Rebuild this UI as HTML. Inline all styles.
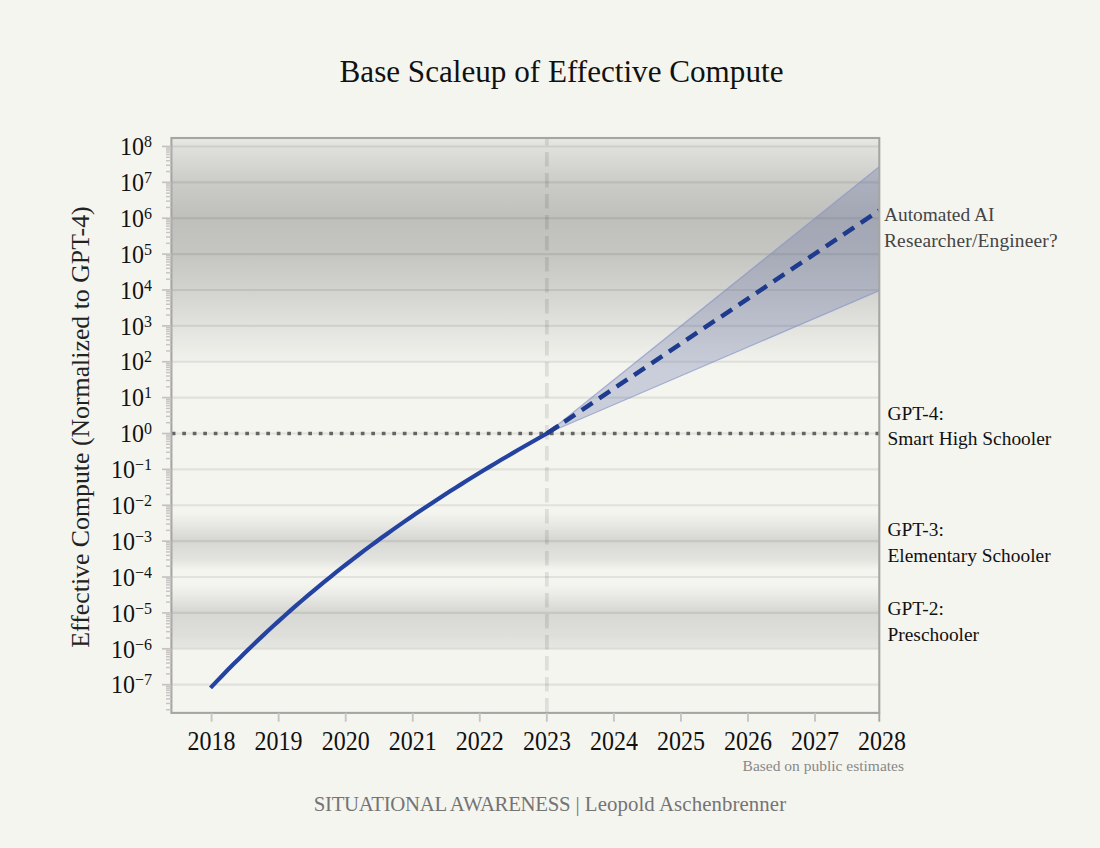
<!DOCTYPE html>
<html><head><meta charset="utf-8">
<style>
html,body{margin:0;padding:0;background:#f5f5f0;}
body{width:1100px;height:848px;overflow:hidden;position:relative;font-family:"Liberation Serif",serif;}
svg{position:absolute;left:0;top:0;}
.t{position:absolute;white-space:nowrap;line-height:1;}
</style></head><body>
<svg width="1100" height="848" viewBox="0 0 1100 848">
<defs>
<linearGradient id="gTop" x1="0" y1="138.0" x2="0" y2="368.916" gradientUnits="userSpaceOnUse">
  <stop offset="0" stop-color="#e8e8e4"/>
  <stop offset="0.037" stop-color="#e0e0dc"/>
  <stop offset="0.192" stop-color="#cbcbc7"/>
  <stop offset="0.347" stop-color="#bfbfbb"/>
  <stop offset="0.503" stop-color="#c5c5c1"/>
  <stop offset="0.658" stop-color="#d2d2ce"/>
  <stop offset="0.814" stop-color="#e2e2de"/>
  <stop offset="0.969" stop-color="#f2f2ed"/>
  <stop offset="1" stop-color="#f5f5f0"/>
</linearGradient>
<linearGradient id="g3" x1="0" y1="512" x2="0" y2="570" gradientUnits="userSpaceOnUse">
  <stop offset="0" stop-color="#f5f5f0"/>
  <stop offset="0.224" stop-color="#e7e7e3"/>
  <stop offset="0.483" stop-color="#d6d6d2"/>
  <stop offset="0.603" stop-color="#dbdbd7"/>
  <stop offset="0.810" stop-color="#e2e2de"/>
  <stop offset="1" stop-color="#f5f5f0"/>
</linearGradient>
<linearGradient id="g2" x1="0" y1="584" x2="0" y2="648.4" gradientUnits="userSpaceOnUse">
  <stop offset="0" stop-color="#f5f5f0"/>
  <stop offset="0.171" stop-color="#eaeae6"/>
  <stop offset="0.419" stop-color="#d7d7d3"/>
  <stop offset="0.543" stop-color="#d9d9d5"/>
  <stop offset="0.792" stop-color="#dededa"/>
  <stop offset="1" stop-color="#e6e6e2"/>
</linearGradient>
<clipPath id="clip"><rect x="171.4" y="138.0" width="707.9" height="574.9"/></clipPath>
</defs>

<rect x="171.4" y="138.0" width="707.9" height="230.92" fill="url(#gTop)"/>
<rect x="171.4" y="512" width="707.9" height="58" fill="url(#g3)"/>
<rect x="171.4" y="584" width="707.9" height="64.4" fill="url(#g2)"/>
<line x1="171.4" x2="879.3" y1="684.66" y2="684.66" stroke="#000" stroke-opacity="0.08" stroke-width="2.1"/>
<line x1="171.4" x2="879.3" y1="648.78" y2="648.78" stroke="#000" stroke-opacity="0.08" stroke-width="2.1"/>
<line x1="171.4" x2="879.3" y1="612.90" y2="612.90" stroke="#000" stroke-opacity="0.08" stroke-width="2.1"/>
<line x1="171.4" x2="879.3" y1="577.02" y2="577.02" stroke="#000" stroke-opacity="0.08" stroke-width="2.1"/>
<line x1="171.4" x2="879.3" y1="541.14" y2="541.14" stroke="#000" stroke-opacity="0.08" stroke-width="2.1"/>
<line x1="171.4" x2="879.3" y1="505.26" y2="505.26" stroke="#000" stroke-opacity="0.08" stroke-width="2.1"/>
<line x1="171.4" x2="879.3" y1="469.38" y2="469.38" stroke="#000" stroke-opacity="0.08" stroke-width="2.1"/>
<line x1="171.4" x2="879.3" y1="433.50" y2="433.50" stroke="#000" stroke-opacity="0.08" stroke-width="2.1"/>
<line x1="171.4" x2="879.3" y1="397.62" y2="397.62" stroke="#000" stroke-opacity="0.08" stroke-width="2.1"/>
<line x1="171.4" x2="879.3" y1="361.74" y2="361.74" stroke="#000" stroke-opacity="0.08" stroke-width="2.1"/>
<line x1="171.4" x2="879.3" y1="325.86" y2="325.86" stroke="#000" stroke-opacity="0.08" stroke-width="2.1"/>
<line x1="171.4" x2="879.3" y1="289.98" y2="289.98" stroke="#000" stroke-opacity="0.08" stroke-width="2.1"/>
<line x1="171.4" x2="879.3" y1="254.10" y2="254.10" stroke="#000" stroke-opacity="0.08" stroke-width="2.1"/>
<line x1="171.4" x2="879.3" y1="218.22" y2="218.22" stroke="#000" stroke-opacity="0.08" stroke-width="2.1"/>
<line x1="171.4" x2="879.3" y1="182.34" y2="182.34" stroke="#000" stroke-opacity="0.08" stroke-width="2.1"/>
<line x1="171.4" x2="879.3" y1="146.46" y2="146.46" stroke="#000" stroke-opacity="0.08" stroke-width="2.1"/>
<line x1="546.85" x2="546.85" y1="138.0" y2="712.9" stroke="#000" stroke-opacity="0.09" stroke-width="3.8" stroke-dasharray="14.5 6.5" stroke-dashoffset="7.0"/>
<g clip-path="url(#clip)">
<polygon points="546.85,433.5 880.3,166.00 880.3,290.17" fill="#5f6ea6" fill-opacity="0.29"/>
<line x1="546.85" y1="433.5" x2="879.3" y2="166.8" stroke="#8694c4" stroke-opacity="0.65" stroke-width="1.3"/>
<line x1="546.85" y1="433.5" x2="879.3" y2="290.6" stroke="#8694c4" stroke-opacity="0.65" stroke-width="1.3"/>
<line x1="171.4" x2="879.3" y1="433.5" y2="433.5" stroke="#646464" stroke-width="3.7" stroke-dasharray="3.7 6.803" stroke-dashoffset="-0.35"/>
<path d="M210.50,687.83 L216.20,681.84 L221.90,675.93 L227.60,670.09 L233.30,664.33 L239.00,658.65 L244.71,653.04 L250.41,647.50 L256.11,642.03 L261.81,636.64 L267.51,631.31 L273.21,626.06 L278.91,620.87 L284.61,615.75 L290.31,610.69 L296.01,605.70 L301.71,600.77 L307.41,595.90 L313.12,591.09 L318.82,586.35 L324.52,581.66 L330.22,577.03 L335.92,572.46 L341.62,567.95 L347.32,563.49 L353.02,559.08 L358.72,554.72 L364.42,550.42 L370.12,546.17 L375.82,541.96 L381.53,537.81 L387.23,533.70 L392.93,529.64 L398.63,525.62 L404.33,521.65 L410.03,517.72 L415.73,513.83 L421.43,509.98 L427.13,506.18 L432.83,502.41 L438.53,498.68 L444.23,494.98 L449.94,491.32 L455.64,487.70 L461.34,484.11 L467.04,480.55 L472.74,477.02 L478.44,473.52 L484.14,470.05 L489.84,466.61 L495.54,463.20 L501.24,459.81 L506.94,456.44 L512.64,453.10 L518.35,449.79 L524.05,446.49 L529.75,443.21 L535.45,439.96 L541.15,436.72 L546.85,433.50 L558.85,425.45" fill="none" stroke="#2443a0" stroke-width="4.2" stroke-linejoin="round"/>
<line x1="546.85" y1="433.5" x2="879.3" y2="210.5" stroke="#1f3b8e" stroke-width="4.5" stroke-dasharray="13 8" stroke-dashoffset="0"/>
</g>
<rect x="171.4" y="138.0" width="707.9" height="574.9" fill="none" stroke="#a5a5a3" stroke-width="2.1"/>
<line x1="166" x2="171.4" y1="709.74" y2="709.74" stroke="#c8c4c4" stroke-width="1.5"/>
<line x1="166" x2="171.4" y1="703.42" y2="703.42" stroke="#c8c4c4" stroke-width="1.5"/>
<line x1="166" x2="171.4" y1="698.94" y2="698.94" stroke="#c8c4c4" stroke-width="1.5"/>
<line x1="166" x2="171.4" y1="695.46" y2="695.46" stroke="#c8c4c4" stroke-width="1.5"/>
<line x1="166" x2="171.4" y1="692.62" y2="692.62" stroke="#c8c4c4" stroke-width="1.5"/>
<line x1="166" x2="171.4" y1="690.22" y2="690.22" stroke="#c8c4c4" stroke-width="1.5"/>
<line x1="166" x2="171.4" y1="688.14" y2="688.14" stroke="#c8c4c4" stroke-width="1.5"/>
<line x1="166" x2="171.4" y1="686.30" y2="686.30" stroke="#c8c4c4" stroke-width="1.5"/>
<line x1="162" x2="171.4" y1="684.66" y2="684.66" stroke="#c6c2c2" stroke-width="1.7"/>
<line x1="166" x2="171.4" y1="673.86" y2="673.86" stroke="#c8c4c4" stroke-width="1.5"/>
<line x1="166" x2="171.4" y1="667.54" y2="667.54" stroke="#c8c4c4" stroke-width="1.5"/>
<line x1="166" x2="171.4" y1="663.06" y2="663.06" stroke="#c8c4c4" stroke-width="1.5"/>
<line x1="166" x2="171.4" y1="659.58" y2="659.58" stroke="#c8c4c4" stroke-width="1.5"/>
<line x1="166" x2="171.4" y1="656.74" y2="656.74" stroke="#c8c4c4" stroke-width="1.5"/>
<line x1="166" x2="171.4" y1="654.34" y2="654.34" stroke="#c8c4c4" stroke-width="1.5"/>
<line x1="166" x2="171.4" y1="652.26" y2="652.26" stroke="#c8c4c4" stroke-width="1.5"/>
<line x1="166" x2="171.4" y1="650.42" y2="650.42" stroke="#c8c4c4" stroke-width="1.5"/>
<line x1="162" x2="171.4" y1="648.78" y2="648.78" stroke="#c6c2c2" stroke-width="1.7"/>
<line x1="166" x2="171.4" y1="637.98" y2="637.98" stroke="#c8c4c4" stroke-width="1.5"/>
<line x1="166" x2="171.4" y1="631.66" y2="631.66" stroke="#c8c4c4" stroke-width="1.5"/>
<line x1="166" x2="171.4" y1="627.18" y2="627.18" stroke="#c8c4c4" stroke-width="1.5"/>
<line x1="166" x2="171.4" y1="623.70" y2="623.70" stroke="#c8c4c4" stroke-width="1.5"/>
<line x1="166" x2="171.4" y1="620.86" y2="620.86" stroke="#c8c4c4" stroke-width="1.5"/>
<line x1="166" x2="171.4" y1="618.46" y2="618.46" stroke="#c8c4c4" stroke-width="1.5"/>
<line x1="166" x2="171.4" y1="616.38" y2="616.38" stroke="#c8c4c4" stroke-width="1.5"/>
<line x1="166" x2="171.4" y1="614.54" y2="614.54" stroke="#c8c4c4" stroke-width="1.5"/>
<line x1="162" x2="171.4" y1="612.90" y2="612.90" stroke="#c6c2c2" stroke-width="1.7"/>
<line x1="166" x2="171.4" y1="602.10" y2="602.10" stroke="#c8c4c4" stroke-width="1.5"/>
<line x1="166" x2="171.4" y1="595.78" y2="595.78" stroke="#c8c4c4" stroke-width="1.5"/>
<line x1="166" x2="171.4" y1="591.30" y2="591.30" stroke="#c8c4c4" stroke-width="1.5"/>
<line x1="166" x2="171.4" y1="587.82" y2="587.82" stroke="#c8c4c4" stroke-width="1.5"/>
<line x1="166" x2="171.4" y1="584.98" y2="584.98" stroke="#c8c4c4" stroke-width="1.5"/>
<line x1="166" x2="171.4" y1="582.58" y2="582.58" stroke="#c8c4c4" stroke-width="1.5"/>
<line x1="166" x2="171.4" y1="580.50" y2="580.50" stroke="#c8c4c4" stroke-width="1.5"/>
<line x1="166" x2="171.4" y1="578.66" y2="578.66" stroke="#c8c4c4" stroke-width="1.5"/>
<line x1="162" x2="171.4" y1="577.02" y2="577.02" stroke="#c6c2c2" stroke-width="1.7"/>
<line x1="166" x2="171.4" y1="566.22" y2="566.22" stroke="#c8c4c4" stroke-width="1.5"/>
<line x1="166" x2="171.4" y1="559.90" y2="559.90" stroke="#c8c4c4" stroke-width="1.5"/>
<line x1="166" x2="171.4" y1="555.42" y2="555.42" stroke="#c8c4c4" stroke-width="1.5"/>
<line x1="166" x2="171.4" y1="551.94" y2="551.94" stroke="#c8c4c4" stroke-width="1.5"/>
<line x1="166" x2="171.4" y1="549.10" y2="549.10" stroke="#c8c4c4" stroke-width="1.5"/>
<line x1="166" x2="171.4" y1="546.70" y2="546.70" stroke="#c8c4c4" stroke-width="1.5"/>
<line x1="166" x2="171.4" y1="544.62" y2="544.62" stroke="#c8c4c4" stroke-width="1.5"/>
<line x1="166" x2="171.4" y1="542.78" y2="542.78" stroke="#c8c4c4" stroke-width="1.5"/>
<line x1="162" x2="171.4" y1="541.14" y2="541.14" stroke="#c6c2c2" stroke-width="1.7"/>
<line x1="166" x2="171.4" y1="530.34" y2="530.34" stroke="#c8c4c4" stroke-width="1.5"/>
<line x1="166" x2="171.4" y1="524.02" y2="524.02" stroke="#c8c4c4" stroke-width="1.5"/>
<line x1="166" x2="171.4" y1="519.54" y2="519.54" stroke="#c8c4c4" stroke-width="1.5"/>
<line x1="166" x2="171.4" y1="516.06" y2="516.06" stroke="#c8c4c4" stroke-width="1.5"/>
<line x1="166" x2="171.4" y1="513.22" y2="513.22" stroke="#c8c4c4" stroke-width="1.5"/>
<line x1="166" x2="171.4" y1="510.82" y2="510.82" stroke="#c8c4c4" stroke-width="1.5"/>
<line x1="166" x2="171.4" y1="508.74" y2="508.74" stroke="#c8c4c4" stroke-width="1.5"/>
<line x1="166" x2="171.4" y1="506.90" y2="506.90" stroke="#c8c4c4" stroke-width="1.5"/>
<line x1="162" x2="171.4" y1="505.26" y2="505.26" stroke="#c6c2c2" stroke-width="1.7"/>
<line x1="166" x2="171.4" y1="494.46" y2="494.46" stroke="#c8c4c4" stroke-width="1.5"/>
<line x1="166" x2="171.4" y1="488.14" y2="488.14" stroke="#c8c4c4" stroke-width="1.5"/>
<line x1="166" x2="171.4" y1="483.66" y2="483.66" stroke="#c8c4c4" stroke-width="1.5"/>
<line x1="166" x2="171.4" y1="480.18" y2="480.18" stroke="#c8c4c4" stroke-width="1.5"/>
<line x1="166" x2="171.4" y1="477.34" y2="477.34" stroke="#c8c4c4" stroke-width="1.5"/>
<line x1="166" x2="171.4" y1="474.94" y2="474.94" stroke="#c8c4c4" stroke-width="1.5"/>
<line x1="166" x2="171.4" y1="472.86" y2="472.86" stroke="#c8c4c4" stroke-width="1.5"/>
<line x1="166" x2="171.4" y1="471.02" y2="471.02" stroke="#c8c4c4" stroke-width="1.5"/>
<line x1="162" x2="171.4" y1="469.38" y2="469.38" stroke="#c6c2c2" stroke-width="1.7"/>
<line x1="166" x2="171.4" y1="458.58" y2="458.58" stroke="#c8c4c4" stroke-width="1.5"/>
<line x1="166" x2="171.4" y1="452.26" y2="452.26" stroke="#c8c4c4" stroke-width="1.5"/>
<line x1="166" x2="171.4" y1="447.78" y2="447.78" stroke="#c8c4c4" stroke-width="1.5"/>
<line x1="166" x2="171.4" y1="444.30" y2="444.30" stroke="#c8c4c4" stroke-width="1.5"/>
<line x1="166" x2="171.4" y1="441.46" y2="441.46" stroke="#c8c4c4" stroke-width="1.5"/>
<line x1="166" x2="171.4" y1="439.06" y2="439.06" stroke="#c8c4c4" stroke-width="1.5"/>
<line x1="166" x2="171.4" y1="436.98" y2="436.98" stroke="#c8c4c4" stroke-width="1.5"/>
<line x1="166" x2="171.4" y1="435.14" y2="435.14" stroke="#c8c4c4" stroke-width="1.5"/>
<line x1="162" x2="171.4" y1="433.50" y2="433.50" stroke="#c6c2c2" stroke-width="1.7"/>
<line x1="166" x2="171.4" y1="422.70" y2="422.70" stroke="#c8c4c4" stroke-width="1.5"/>
<line x1="166" x2="171.4" y1="416.38" y2="416.38" stroke="#c8c4c4" stroke-width="1.5"/>
<line x1="166" x2="171.4" y1="411.90" y2="411.90" stroke="#c8c4c4" stroke-width="1.5"/>
<line x1="166" x2="171.4" y1="408.42" y2="408.42" stroke="#c8c4c4" stroke-width="1.5"/>
<line x1="166" x2="171.4" y1="405.58" y2="405.58" stroke="#c8c4c4" stroke-width="1.5"/>
<line x1="166" x2="171.4" y1="403.18" y2="403.18" stroke="#c8c4c4" stroke-width="1.5"/>
<line x1="166" x2="171.4" y1="401.10" y2="401.10" stroke="#c8c4c4" stroke-width="1.5"/>
<line x1="166" x2="171.4" y1="399.26" y2="399.26" stroke="#c8c4c4" stroke-width="1.5"/>
<line x1="162" x2="171.4" y1="397.62" y2="397.62" stroke="#c6c2c2" stroke-width="1.7"/>
<line x1="166" x2="171.4" y1="386.82" y2="386.82" stroke="#c8c4c4" stroke-width="1.5"/>
<line x1="166" x2="171.4" y1="380.50" y2="380.50" stroke="#c8c4c4" stroke-width="1.5"/>
<line x1="166" x2="171.4" y1="376.02" y2="376.02" stroke="#c8c4c4" stroke-width="1.5"/>
<line x1="166" x2="171.4" y1="372.54" y2="372.54" stroke="#c8c4c4" stroke-width="1.5"/>
<line x1="166" x2="171.4" y1="369.70" y2="369.70" stroke="#c8c4c4" stroke-width="1.5"/>
<line x1="166" x2="171.4" y1="367.30" y2="367.30" stroke="#c8c4c4" stroke-width="1.5"/>
<line x1="166" x2="171.4" y1="365.22" y2="365.22" stroke="#c8c4c4" stroke-width="1.5"/>
<line x1="166" x2="171.4" y1="363.38" y2="363.38" stroke="#c8c4c4" stroke-width="1.5"/>
<line x1="162" x2="171.4" y1="361.74" y2="361.74" stroke="#c6c2c2" stroke-width="1.7"/>
<line x1="166" x2="171.4" y1="350.94" y2="350.94" stroke="#c8c4c4" stroke-width="1.5"/>
<line x1="166" x2="171.4" y1="344.62" y2="344.62" stroke="#c8c4c4" stroke-width="1.5"/>
<line x1="166" x2="171.4" y1="340.14" y2="340.14" stroke="#c8c4c4" stroke-width="1.5"/>
<line x1="166" x2="171.4" y1="336.66" y2="336.66" stroke="#c8c4c4" stroke-width="1.5"/>
<line x1="166" x2="171.4" y1="333.82" y2="333.82" stroke="#c8c4c4" stroke-width="1.5"/>
<line x1="166" x2="171.4" y1="331.42" y2="331.42" stroke="#c8c4c4" stroke-width="1.5"/>
<line x1="166" x2="171.4" y1="329.34" y2="329.34" stroke="#c8c4c4" stroke-width="1.5"/>
<line x1="166" x2="171.4" y1="327.50" y2="327.50" stroke="#c8c4c4" stroke-width="1.5"/>
<line x1="162" x2="171.4" y1="325.86" y2="325.86" stroke="#c6c2c2" stroke-width="1.7"/>
<line x1="166" x2="171.4" y1="315.06" y2="315.06" stroke="#c8c4c4" stroke-width="1.5"/>
<line x1="166" x2="171.4" y1="308.74" y2="308.74" stroke="#c8c4c4" stroke-width="1.5"/>
<line x1="166" x2="171.4" y1="304.26" y2="304.26" stroke="#c8c4c4" stroke-width="1.5"/>
<line x1="166" x2="171.4" y1="300.78" y2="300.78" stroke="#c8c4c4" stroke-width="1.5"/>
<line x1="166" x2="171.4" y1="297.94" y2="297.94" stroke="#c8c4c4" stroke-width="1.5"/>
<line x1="166" x2="171.4" y1="295.54" y2="295.54" stroke="#c8c4c4" stroke-width="1.5"/>
<line x1="166" x2="171.4" y1="293.46" y2="293.46" stroke="#c8c4c4" stroke-width="1.5"/>
<line x1="166" x2="171.4" y1="291.62" y2="291.62" stroke="#c8c4c4" stroke-width="1.5"/>
<line x1="162" x2="171.4" y1="289.98" y2="289.98" stroke="#c6c2c2" stroke-width="1.7"/>
<line x1="166" x2="171.4" y1="279.18" y2="279.18" stroke="#c8c4c4" stroke-width="1.5"/>
<line x1="166" x2="171.4" y1="272.86" y2="272.86" stroke="#c8c4c4" stroke-width="1.5"/>
<line x1="166" x2="171.4" y1="268.38" y2="268.38" stroke="#c8c4c4" stroke-width="1.5"/>
<line x1="166" x2="171.4" y1="264.90" y2="264.90" stroke="#c8c4c4" stroke-width="1.5"/>
<line x1="166" x2="171.4" y1="262.06" y2="262.06" stroke="#c8c4c4" stroke-width="1.5"/>
<line x1="166" x2="171.4" y1="259.66" y2="259.66" stroke="#c8c4c4" stroke-width="1.5"/>
<line x1="166" x2="171.4" y1="257.58" y2="257.58" stroke="#c8c4c4" stroke-width="1.5"/>
<line x1="166" x2="171.4" y1="255.74" y2="255.74" stroke="#c8c4c4" stroke-width="1.5"/>
<line x1="162" x2="171.4" y1="254.10" y2="254.10" stroke="#c6c2c2" stroke-width="1.7"/>
<line x1="166" x2="171.4" y1="243.30" y2="243.30" stroke="#c8c4c4" stroke-width="1.5"/>
<line x1="166" x2="171.4" y1="236.98" y2="236.98" stroke="#c8c4c4" stroke-width="1.5"/>
<line x1="166" x2="171.4" y1="232.50" y2="232.50" stroke="#c8c4c4" stroke-width="1.5"/>
<line x1="166" x2="171.4" y1="229.02" y2="229.02" stroke="#c8c4c4" stroke-width="1.5"/>
<line x1="166" x2="171.4" y1="226.18" y2="226.18" stroke="#c8c4c4" stroke-width="1.5"/>
<line x1="166" x2="171.4" y1="223.78" y2="223.78" stroke="#c8c4c4" stroke-width="1.5"/>
<line x1="166" x2="171.4" y1="221.70" y2="221.70" stroke="#c8c4c4" stroke-width="1.5"/>
<line x1="166" x2="171.4" y1="219.86" y2="219.86" stroke="#c8c4c4" stroke-width="1.5"/>
<line x1="162" x2="171.4" y1="218.22" y2="218.22" stroke="#c6c2c2" stroke-width="1.7"/>
<line x1="166" x2="171.4" y1="207.42" y2="207.42" stroke="#c8c4c4" stroke-width="1.5"/>
<line x1="166" x2="171.4" y1="201.10" y2="201.10" stroke="#c8c4c4" stroke-width="1.5"/>
<line x1="166" x2="171.4" y1="196.62" y2="196.62" stroke="#c8c4c4" stroke-width="1.5"/>
<line x1="166" x2="171.4" y1="193.14" y2="193.14" stroke="#c8c4c4" stroke-width="1.5"/>
<line x1="166" x2="171.4" y1="190.30" y2="190.30" stroke="#c8c4c4" stroke-width="1.5"/>
<line x1="166" x2="171.4" y1="187.90" y2="187.90" stroke="#c8c4c4" stroke-width="1.5"/>
<line x1="166" x2="171.4" y1="185.82" y2="185.82" stroke="#c8c4c4" stroke-width="1.5"/>
<line x1="166" x2="171.4" y1="183.98" y2="183.98" stroke="#c8c4c4" stroke-width="1.5"/>
<line x1="162" x2="171.4" y1="182.34" y2="182.34" stroke="#c6c2c2" stroke-width="1.7"/>
<line x1="166" x2="171.4" y1="171.54" y2="171.54" stroke="#c8c4c4" stroke-width="1.5"/>
<line x1="166" x2="171.4" y1="165.22" y2="165.22" stroke="#c8c4c4" stroke-width="1.5"/>
<line x1="166" x2="171.4" y1="160.74" y2="160.74" stroke="#c8c4c4" stroke-width="1.5"/>
<line x1="166" x2="171.4" y1="157.26" y2="157.26" stroke="#c8c4c4" stroke-width="1.5"/>
<line x1="166" x2="171.4" y1="154.42" y2="154.42" stroke="#c8c4c4" stroke-width="1.5"/>
<line x1="166" x2="171.4" y1="152.02" y2="152.02" stroke="#c8c4c4" stroke-width="1.5"/>
<line x1="166" x2="171.4" y1="149.94" y2="149.94" stroke="#c8c4c4" stroke-width="1.5"/>
<line x1="166" x2="171.4" y1="148.10" y2="148.10" stroke="#c8c4c4" stroke-width="1.5"/>
<line x1="162" x2="171.4" y1="146.46" y2="146.46" stroke="#c6c2c2" stroke-width="1.7"/>
<line x1="211.60" x2="211.60" y1="712.9" y2="721.7" stroke="#c8c4c4" stroke-width="1.9"/>
<line x1="278.65" x2="278.65" y1="712.9" y2="721.7" stroke="#c8c4c4" stroke-width="1.9"/>
<line x1="345.70" x2="345.70" y1="712.9" y2="721.7" stroke="#c8c4c4" stroke-width="1.9"/>
<line x1="412.75" x2="412.75" y1="712.9" y2="721.7" stroke="#c8c4c4" stroke-width="1.9"/>
<line x1="479.80" x2="479.80" y1="712.9" y2="721.7" stroke="#c8c4c4" stroke-width="1.9"/>
<line x1="546.85" x2="546.85" y1="712.9" y2="721.7" stroke="#c8c4c4" stroke-width="1.9"/>
<line x1="613.90" x2="613.90" y1="712.9" y2="721.7" stroke="#c8c4c4" stroke-width="1.9"/>
<line x1="680.95" x2="680.95" y1="712.9" y2="721.7" stroke="#c8c4c4" stroke-width="1.9"/>
<line x1="748.00" x2="748.00" y1="712.9" y2="721.7" stroke="#c8c4c4" stroke-width="1.9"/>
<line x1="815.05" x2="815.05" y1="712.9" y2="721.7" stroke="#c8c4c4" stroke-width="1.9"/>
<line x1="879.30" x2="879.30" y1="712.9" y2="721.7" stroke="#a5a5a3" stroke-width="1.9"/>
</svg>
<!-- title -->
<div class="t" style="left:0;width:1123px;text-align:center;top:55.8px;font-size:31.15px;color:#111;">Base Scaleup of Effective Compute</div>
<div class="t" style="right:948px;top:672.4px;font-size:24px;color:#111;transform:scaleY(1.09);">10<span style="font-size:16px;position:relative;top:-7.2px;">&minus;7</span></div>
<div class="t" style="right:948px;top:636.5px;font-size:24px;color:#111;transform:scaleY(1.09);">10<span style="font-size:16px;position:relative;top:-7.2px;">&minus;6</span></div>
<div class="t" style="right:948px;top:600.6px;font-size:24px;color:#111;transform:scaleY(1.09);">10<span style="font-size:16px;position:relative;top:-7.2px;">&minus;5</span></div>
<div class="t" style="right:948px;top:564.7px;font-size:24px;color:#111;transform:scaleY(1.09);">10<span style="font-size:16px;position:relative;top:-7.2px;">&minus;4</span></div>
<div class="t" style="right:948px;top:528.8px;font-size:24px;color:#111;transform:scaleY(1.09);">10<span style="font-size:16px;position:relative;top:-7.2px;">&minus;3</span></div>
<div class="t" style="right:948px;top:493.0px;font-size:24px;color:#111;transform:scaleY(1.09);">10<span style="font-size:16px;position:relative;top:-7.2px;">&minus;2</span></div>
<div class="t" style="right:948px;top:457.1px;font-size:24px;color:#111;transform:scaleY(1.09);">10<span style="font-size:16px;position:relative;top:-7.2px;">&minus;1</span></div>
<div class="t" style="right:948px;top:421.2px;font-size:24px;color:#111;transform:scaleY(1.09);">10<span style="font-size:16px;position:relative;top:-7.2px;">0</span></div>
<div class="t" style="right:948px;top:385.3px;font-size:24px;color:#111;transform:scaleY(1.09);">10<span style="font-size:16px;position:relative;top:-7.2px;">1</span></div>
<div class="t" style="right:948px;top:349.4px;font-size:24px;color:#111;transform:scaleY(1.09);">10<span style="font-size:16px;position:relative;top:-7.2px;">2</span></div>
<div class="t" style="right:948px;top:313.6px;font-size:24px;color:#111;transform:scaleY(1.09);">10<span style="font-size:16px;position:relative;top:-7.2px;">3</span></div>
<div class="t" style="right:948px;top:277.7px;font-size:24px;color:#111;transform:scaleY(1.09);">10<span style="font-size:16px;position:relative;top:-7.2px;">4</span></div>
<div class="t" style="right:948px;top:241.8px;font-size:24px;color:#111;transform:scaleY(1.09);">10<span style="font-size:16px;position:relative;top:-7.2px;">5</span></div>
<div class="t" style="right:948px;top:205.9px;font-size:24px;color:#111;transform:scaleY(1.09);">10<span style="font-size:16px;position:relative;top:-7.2px;">6</span></div>
<div class="t" style="right:948px;top:170.0px;font-size:24px;color:#111;transform:scaleY(1.09);">10<span style="font-size:16px;position:relative;top:-7.2px;">7</span></div>
<div class="t" style="right:948px;top:134.2px;font-size:24px;color:#111;transform:scaleY(1.09);">10<span style="font-size:16px;position:relative;top:-7.2px;">8</span></div>
<div class="t" style="left:171.6px;width:80px;text-align:center;top:729.3px;font-size:24px;color:#111;transform:scaleY(1.15);">2018</div>
<div class="t" style="left:238.6px;width:80px;text-align:center;top:729.3px;font-size:24px;color:#111;transform:scaleY(1.15);">2019</div>
<div class="t" style="left:305.7px;width:80px;text-align:center;top:729.3px;font-size:24px;color:#111;transform:scaleY(1.15);">2020</div>
<div class="t" style="left:372.8px;width:80px;text-align:center;top:729.3px;font-size:24px;color:#111;transform:scaleY(1.15);">2021</div>
<div class="t" style="left:439.8px;width:80px;text-align:center;top:729.3px;font-size:24px;color:#111;transform:scaleY(1.15);">2022</div>
<div class="t" style="left:506.9px;width:80px;text-align:center;top:729.3px;font-size:24px;color:#111;transform:scaleY(1.15);">2023</div>
<div class="t" style="left:573.9px;width:80px;text-align:center;top:729.3px;font-size:24px;color:#111;transform:scaleY(1.15);">2024</div>
<div class="t" style="left:640.9px;width:80px;text-align:center;top:729.3px;font-size:24px;color:#111;transform:scaleY(1.15);">2025</div>
<div class="t" style="left:708.0px;width:80px;text-align:center;top:729.3px;font-size:24px;color:#111;transform:scaleY(1.15);">2026</div>
<div class="t" style="left:775.0px;width:80px;text-align:center;top:729.3px;font-size:24px;color:#111;transform:scaleY(1.15);">2027</div>
<div class="t" style="left:842.1px;width:80px;text-align:center;top:729.3px;font-size:24px;color:#111;transform:scaleY(1.15);">2028</div>
<div class="t" style="left:68px;top:426.8px;font-size:25.8px;color:#222;transform-origin:0 0;transform:rotate(-90deg) translate(-50%,0);">Effective Compute (Normalized to GPT-4)</div>
<div class="t" style="left:884px;top:202.1px;font-size:19.4px;color:#444;line-height:25.5px;">Automated AI<br><span style="letter-spacing:0.18px">Researcher/Engineer?</span></div>
<div class="t" style="left:887.5px;top:400.5px;font-size:19.4px;color:#111;line-height:25.5px;">GPT-4:<br>Smart High Schooler</div>
<div class="t" style="left:887.5px;top:517px;font-size:19.4px;color:#111;line-height:26px;">GPT-3:<br>Elementary Schooler</div>
<div class="t" style="left:887.5px;top:595.5px;font-size:19.4px;color:#111;line-height:26px;">GPT-2:<br>Preschooler</div>
<div class="t" style="right:196px;top:758.2px;font-size:15.5px;color:#888;">Based on public estimates</div>
<div class="t" style="left:0;width:1100px;text-align:center;top:793.8px;font-size:20.8px;color:#747474;"><span style="letter-spacing:-0.3px">SITUATIONAL AWARENESS</span> | <span style="letter-spacing:0.1px">Leopold Aschenbrenner</span></div>
</body></html>
